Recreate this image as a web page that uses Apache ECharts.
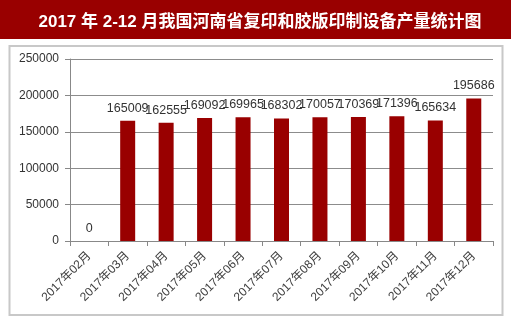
<!DOCTYPE html>
<html><head><meta charset="utf-8">
<script src="https://cdn.jsdelivr.net/npm/echarts@6/dist/echarts.min.js"></script>
<style>html,body{margin:0;padding:0;background:#fff}#c{width:520px;height:321px}</style>
</head><body><div id="c"></div>
<script>
var titleText = '2017 年 2-12 月我国河南省复印和胶版印制设备产量统计图';
var categories = ['2017年02月','2017年03月','2017年04月','2017年05月','2017年06月','2017年07月','2017年08月','2017年09月','2017年10月','2017年11月','2017年12月'];
var values = [0,165009,162555,169092,169965,168302,170057,170369,171396,165634,195686];
var yTicks = [0,50000,100000,150000,200000,250000];

var chart = echarts.init(document.getElementById('c'));
chart.setOption({
  animation:false,
  graphic:[
    {type:'rect',shape:{x:0,y:0,width:511,height:39},style:{fill:'#990000'},z:-1},
    {type:'rect',shape:{x:9.5,y:46,width:493,height:269},style:{fill:'none',stroke:'#c8c8c8',lineWidth:2},z:-1}
  ],
  title:{text:titleText,left:255,top:9,textAlign:'center',
    textStyle:{color:'#fff',fontSize:17,fontWeight:'bold',fontFamily:'"Liberation Sans","Noto Sans CJK SC",sans-serif'}},
  grid:{left:70,right:27,top:59,bottom:80},
  xAxis:{type:'category',data:categories,
    axisLine:{lineStyle:{color:'#888'}},
    axisTick:{show:true,alignWithLabel:false,length:5,lineStyle:{color:'#888'}},
    axisLabel:{rotate:45,interval:0,color:'#404040',fontSize:12,margin:13,fontFamily:'"Liberation Sans","Noto Sans CJK SC",sans-serif'}},
  yAxis:{type:'value',min:0,max:250000,interval:50000,
    axisLine:{show:true,lineStyle:{color:'#888'}},
    axisTick:{show:true,inside:false,length:5,lineStyle:{color:'#888'}},
    splitLine:{lineStyle:{color:'#8c8c8c'}},
    axisLabel:{color:'#333',fontSize:12,margin:11,fontFamily:'"Liberation Sans",sans-serif',
      formatter:function(v){return yTicks.indexOf(v)>=0?String(v):'';}}},
  series:[{type:'bar',data:values,barWidth:15,
    itemStyle:{color:'#990000'},
    label:{show:true,position:'top',distance:6,color:'#333',fontSize:12.5,fontFamily:'"Liberation Sans",sans-serif'}}]
});
</script></body></html>
